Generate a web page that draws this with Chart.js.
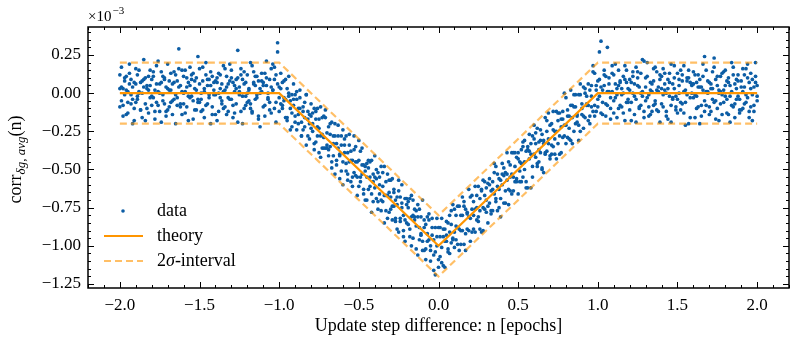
<!DOCTYPE html>
<html>
<head>
<meta charset="utf-8">
<script src="https://cdn.jsdelivr.net/npm/chart.js@4"></script>
<style>
  html, body { margin: 0; padding: 0; background: #fff; }
  #wrap { width: 797px; height: 346px; }
</style>
</head>
<body>
<div id="wrap"><canvas id="chart" width="797" height="346"></canvas></div>
<script>
// x positions of the measured points, in 1/100 epoch
const dataX = [
  -200,-199,-198,-197,-196,-195,-194,-193,-192,-191,-190,-189,-188,-187,-186,-185,-184,-183,-182,-181,
  -180,-179,-178,-177,-176,-175,-174,-173,-172,-171,-170,-169,-168,-167,-166,-165,-164,-163,-162,-161,
  -160,-159,-158,-157,-156,-155,-154,-153,-152,-151,-150,-149,-148,-147,-146,-145,-144,-143,-142,-141,
  -140,-139,-138,-137,-136,-135,-134,-133,-132,-131,-130,-129,-128,-127,-126,-125,-124,-123,-122,-121,
  -120,-119,-118,-117,-116,-115,-114,-113,-112,-111,-110,-109,-108,-107,-106,-105,-104,-103,-102,-101,
  -100,-99,-98,-97,-96,-95,-94,-93,-92,-91,-90,-89,-88,-87,-86,-85,-84,-83,-82,-81,
  -80,-79,-78,-77,-76,-75,-74,-73,-72,-71,-70,-69,-68,-67,-66,-65,-64,-63,-62,-61,
  -60,-59,-58,-57,-56,-55,-54,-53,-52,-51,-50,-49,-48,-47,-46,-45,-44,-43,-42,-41,
  -40,-39,-38,-37,-36,-35,-34,-33,-32,-31,-30,-29,-28,-27,-26,-25,-24,-23,-22,-21,
  -20,-19,-18,-17,-16,-15,-14,-13,-12,-11,-10,-9,-8,-7,-6,-5,-4,-3,-2,-1,
  0,1,2,3,4,5,6,7,8,9,10,11,12,13,14,15,16,17,18,19,
  20,21,22,23,24,25,26,27,28,29,30,31,32,33,34,35,36,37,38,39,
  40,41,42,43,44,45,46,47,48,49,50,51,52,53,54,55,56,57,58,59,
  60,61,62,63,64,65,66,67,68,69,70,71,72,73,74,75,76,77,78,79,
  80,81,82,83,84,85,86,87,88,89,90,91,92,93,94,95,96,97,98,99,
  100,101,102,103,104,105,106,107,108,109,110,111,112,113,114,115,116,117,118,119,
  120,121,122,123,124,125,126,127,128,129,130,131,132,133,134,135,136,137,138,139,
  140,141,142,143,144,145,146,147,148,149,150,151,152,153,154,155,156,157,158,159,
  160,161,162,163,164,165,166,167,168,169,170,171,172,173,174,175,176,177,178,179,
  180,181,182,183,184,185,186,187,188,189,190,191,192,193,194,195,196,197,198,199,
  200
];

// three runs of measured correlation, in units of 1e-5
const runA = [
  12,-5,3,8,-14,1,19,-7,4,-10, 6,-2,15,-11,0,9,-18,5,11,-3,
  -8,14,2,-6,21,-12,7,-1,10,-15, 3,-9,13,6,-4,-20,8,16,-7,1,
  11,-13,4,-2,17,9,-5,-11,2,24, -6,0,8,-16,12,5,-3,14,-9,7,
  -1,10,-12,3,-7,18,2,-14,6,-4, 15,-8,1,9,-19,4,12,-2,-10,7,
  0,-5,20,-13,6,11,-1,-17,3,8, -9,13,5,-4,-11,16,2,9,-6,27,
  -3,
  3,-10,8,-4,-18,0,-5,-13,6,-19, -4,-14,-3,-28,-12,-22,-1,-17,-30,-15,
  -25,-10,-32,-22,-17,-42,-27,-15,-36,-26, -22,-35,-45,-28,-20,-44,-36,-56,-28,-45,
  -39,-28,-53,-45,-38,-61,-37,-45,-55,-31, -58,-47,-66,-48,-55,-44,-61,-78,-53,-62,
  -50,-71,-60,-48,-71,-67,-58,-82,-65,-57, -74,-65,-84,-73,-57,-84,-72,-94,-69,-85,
  -75,-94,-81,-70,-81,-77,-106,-88,-81,-97, -88,-102,-81,-96,-110,-88,-96,-104,-82,-109,
  -94,-111,-89,-97,-84,-102,-91,-77,-95,-101, -80,-88,-103,-80,-90,-71,-92,-79,-63,-82,
  -91,-71,-76,-83,-61,-77,-63,-90,-67,-62, -74,-56,-77,-63,-66,-48,-77,-56,-69,-60,
  -49,-64,-53,-73,-47,-53,-64,-39,-56,-43, -58,-46,-32,-50,-58,-35,-38,-62,-28,-40,
  -33,-46,-37,-24,-50,-31,-16,-38,-33,-21, -40,-24,-30,-12,-18,-40,-22,-12,-28,-33,
  -11,-23,2,-16,-25,-9,-15,-1,-25,-7, -15,3,-8,-18,2,-2,-12,13,2,
  -4,9,-13,2,15,-7,30,6,-10,1, 12,-3,-16,5,8,-9,0,18,-6,3,
  -11,7,14,-2,-19,10,4,-8,1,21, -5,11,-1,-14,6,16,-7,2,-12,9,
  3,-9,13,0,-17,7,19,-4,10,-2, -13,5,-6,12,1,-21,8,15,-3,6,
  14,-1,-10,4,9,-15,2,24,-8,0, 7,-12,3,17,-5,11,-18,1,13,-6,
  -2,8,-14,5,20,-9,6,-4,12,-11, 4,16,-7,-1,10,-16,3,9,-12,7,
  -5
];

const runB = [
  -9,4,-15,10,2,-6,13,-1,-20,7, 16,-4,1,-11,8,22,-7,3,-13,5,
  -2,11,-17,6,-8,0,14,-5,9,-12, 19,2,-6,-14,7,12,-3,4,-9,15,
  -7,1,10,-18,5,-2,13,8,-11,-4, 6,-12,17,3,-8,9,-1,-20,11,2,
  -14,7,0,12,-5,-10,16,4,-3,8, 10,-16,5,-7,28,1,-12,9,14,-2,
  -6,3,-10,18,7,-4,11,-15,0,13, 5,-8,21,-3,9,-13,2,17,-19,33,
  4,
  -7,7,-5,9,-16,-2,-24,-1,-8,-15, 1,-20,-10,-28,-9,-16,-1,-28,-14,-23,
  -13,-37,-12,-28,-23,-9,-36,-29,-16,-36, -41,-27,-19,-41,-53,-33,-28,-40,-51,-24,
  -34,-46,-57,-34,-44,-55,-28,-54,-45,-61, -38,-53,-47,-70,-46,-63,-55,-44,-71,-55,
  -69,-52,-66,-77,-61,-48,-77,-67,-57,-76, -56,-74,-82,-68,-91,-68,-75,-90,-83,-69,
  -86,-69,-100,-80,-76,-87,-73,-96,-92,-70, -103,-86,-97,-79,-103,-93,-116,-88,-100,-114,
  -88,-101,-113,-89,-93,-104,-80,-98,-73,-91, -96,-74,-89,-99,-80,-74,-103,-78,-90,-68,
  -76,-89,-61,-75,-81,-89,-64,-75,-58,-78, -59,-72,-79,-58,-46,-71,-61,-75,-57,-46,
  -72,-52,-57,-45,-64,-39,-55,-58,-42,-66, -45,-58,-35,-45,-38,-62,-27,-40,-48,-30,
  -42,-23,-45,-31,-49,-33,-39,-25,-13,-41, -20,-35,-25,-43,-13,-28,-17,-29,-21,-3,
  -29,-15,-31,-8,-1,-20,-14,-31,-1,-14, 4,-16,-2,-8,-20,5,18,-8,-12,
  8,-2,34,-14,5,11,-8,1,-17,13, -5,19,3,-10,7,-1,-13,9,15,-6,
  2,-18,11,6,-4,14,-9,0,22,-12, 10,-3,-15,7,1,-8,17,-11,4,12,
  -7,16,2,-12,9,-2,-19,6,3,-9, 13,0,-11,8,18,-6,-1,10,-16,5,
  -3,12,7,-9,-20,4,11,-5,15,1, -14,6,-4,23,9,-10,2,-7,-1,14,
  5,-13,10,-2,-8,17,-16,3,8,-4, -11,1,12,-6,19,7,-9,-18,4,11,
  -2
];

const runC = [
  3,17,-8,-1,11,-13,6,9,-4,-18, -6,12,0,7,-16,4,10,-10,2,15,
  9,-3,-12,18,1,6,-19,11,-7,4, -11,8,2,-5,14,-1,-8,29,5,-14,
  0,15,-9,7,-3,12,-17,3,10,-6, 16,-4,-11,1,20,-7,9,5,-14,-1,
  8,-18,13,-3,6,1,-9,11,-12,19, -4,7,-13,3,10,-1,16,-20,6,-8,
  12,2,-7,-12,14,5,-3,8,-22,1, 7,-15,10,0,-6,4,19,-10,12,6,
  -12,
  13,-8,-3,-16,3,11,-10,-22,-4,-1, -24,-10,2,-19,-24,-6,-34,-12,-20,-7,
  -20,-33,-17,-10,-39,-28,-16,-36,-11,-34, -37,-20,-49,-33,-28,-47,-21,-41,-34,-60,
  -30,-51,-39,-27,-58,-44,-52,-35,-67,-44, -55,-36,-63,-51,-70,-49,-45,-66,-58,-41,
  -56,-76,-55,-70,-52,-85,-67,-53,-78,-68, -83,-63,-70,-89,-64,-82,-60,-80,-97,-73,
  -71,-89,-67,-95,-83,-102,-81,-76,-93,-103, -83,-109,-92,-83,-100,-82,-106,-119,-94,-88,
  -107,-82,-94,-114,-97,-85,-105,-86,-96,-76, -87,-99,-74,-90,-68,-99,-76,-89,-81,-97,
  -67,-80,-91,-67,-84,-69,-91,-57,-76,-70, -85,-60,-64,-77,-52,-69,-53,-63,-81,-53,
  -54,-72,-39,-63,-55,-66,-39,-48,-58,-39, -51,-37,-55,-31,-62,-37,-43,-33,-55,-21,
  -26,-48,-32,-39,-27,-52,-40,-18,-30,-43, -34,-12,-40,-25,-33,-13,-39,-17,0,-21,
  -15,-30,-8,-33,-9,-1,-19,-21,6,-10, -23,0,-7,6,-15,-9,14,-15,5,
  -9,27,4,-6,12,-15,1,10,-3,18, -13,6,-1,15,-8,3,11,-18,7,-4,
  9,-6,0,-14,17,5,-10,13,-2,-16, 4,20,-9,2,-12,8,-5,14,1,-19,
  11,-1,6,-15,3,13,-8,-3,18,-11, -4,9,15,-7,-13,2,10,-20,7,0,
  6,-16,-2,12,4,-8,19,-12,1,8, -9,3,14,-6,-17,5,0,11,-14,2,
  15,-4,7,-19,1,12,-7,9,-2,-13, 8,-10,4,16,-3,-12,13,-1,-8,20,
  5
];

// theory curve and its 2 sigma band (units of 1e-3)
const theoryX = [-2, -1, 0, 1, 2];
const theoryY = [0, 0, -1, 0, 0];
const upperY = [0.2, 0.2, -0.8, 0.2, 0.2];
const lowerY = [-0.2, -0.2, -1.2, -0.2, -0.2];

const xTicks = [-2.0, -1.5, -1.0, -0.5, 0.0, 0.5, 1.0, 1.5, 2.0];
const yTicks = [-1.25, -1.0, -0.75, -0.5, -0.25, 0.0, 0.25];

const BLUE = "#0C5DA5";
const ORANGE = "#FF9500";
const ORANGE_LIGHT = "rgba(255,149,0,0.6)";
const SERIF = "'Liberation Serif', 'DejaVu Serif', serif";

function buildPoints() {
  const points = [];
  [runA, runB, runC].forEach((run) => {
    run.forEach((v, i) => points.push({ x: dataX[i] / 100, y: v / 100 }));
  });
  return points;
}

function linePoints(ys) {
  return theoryX.map((x, i) => ({ x: x, y: ys[i] }));
}

function fmt(v, digits) {
  return v.toFixed(digits).replace("-", "\u2212");
}

// inward ticks on all four sides + frame, like the matplotlib style
const framePlugin = {
  id: "frame",
  afterDatasetsDraw(chart) {
    const { ctx, chartArea: a, scales: { x, y } } = chart;
    ctx.save();
    ctx.strokeStyle = "#000";
    ctx.lineWidth = 1;
    ctx.beginPath();
    for (let k = -22; k <= 22; k++) {
      const len = k % 5 === 0 ? 6 : 3;
      const px = Math.round(x.getPixelForValue(k / 10)) + 0.5;
      ctx.moveTo(px, a.bottom); ctx.lineTo(px, a.bottom - len);
      ctx.moveTo(px, a.top); ctx.lineTo(px, a.top + len);
    }
    for (let k = -25; k <= 8; k++) {
      const len = k % 5 === 0 ? 6 : 3;
      const py = Math.round(y.getPixelForValue(k * 0.05)) + 0.5;
      ctx.moveTo(a.left, py); ctx.lineTo(a.left + len, py);
      ctx.moveTo(a.right, py); ctx.lineTo(a.right - len, py);
    }
    ctx.stroke();
    ctx.lineWidth = 1.5;
    ctx.strokeRect(a.left, a.top, a.right - a.left, a.bottom - a.top);
    ctx.restore();
  },
  afterDraw(chart) {
    const { ctx, chartArea: a } = chart;
    ctx.save();
    ctx.fillStyle = "#000";
    ctx.textBaseline = "alphabetic";

    // x axis title
    ctx.font = "18px " + SERIF;
    ctx.textAlign = "center";
    ctx.fillText("Update step difference: n [epochs]", (a.left + a.right) / 2, 331);

    // offset text
    ctx.textAlign = "left";
    ctx.font = "15px " + SERIF;
    ctx.fillText("\u00d710", 88, 21);
    const w10 = ctx.measureText("\u00d710").width;
    ctx.font = "11px " + SERIF;
    ctx.fillText("\u22123", 88 + w10 + 1, 14);

    // y axis title with subscript
    ctx.translate(21, (a.top + a.bottom) / 2 + 2);
    ctx.rotate(-Math.PI / 2);
    const mainFont = "18px " + SERIF;
    const subFont = "italic 13px " + SERIF;
    ctx.font = mainFont; const w1 = ctx.measureText("corr").width;
    ctx.font = subFont; const w2 = ctx.measureText("\u03b4g, avg").width;
    ctx.font = mainFont; const w3 = ctx.measureText("(n)").width;
    let cx = -(w1 + w2 + w3) / 2;
    ctx.font = mainFont; ctx.fillText("corr", cx, 0); cx += w1;
    ctx.font = subFont; ctx.fillText("\u03b4g, avg", cx, 4); cx += w2;
    ctx.font = mainFont; ctx.fillText("(n)", cx, 0);
    ctx.restore();

    // legend
    ctx.save();
    ctx.fillStyle = BLUE;
    ctx.beginPath();
    ctx.arc(123, 211, 1.8, 0, Math.PI * 2);
    ctx.fill();
    ctx.lineWidth = 2;
    ctx.strokeStyle = ORANGE;
    ctx.beginPath(); ctx.moveTo(104, 236); ctx.lineTo(143, 236); ctx.stroke();
    ctx.strokeStyle = ORANGE_LIGHT;
    ctx.setLineDash([7, 4]);
    ctx.beginPath(); ctx.moveTo(104, 261); ctx.lineTo(143, 261); ctx.stroke();
    ctx.setLineDash([]);
    ctx.fillStyle = "#000";
    ctx.textBaseline = "middle";
    ctx.textAlign = "left";
    ctx.font = "18px " + SERIF;
    ctx.fillText("data", 157, 211);
    ctx.fillText("theory", 157, 236);
    ctx.fillText("2", 157, 261);
    let lx = 157 + ctx.measureText("2").width;
    ctx.font = "italic 18px " + SERIF;
    ctx.fillText("\u03c3", lx, 261);
    lx += ctx.measureText("\u03c3").width;
    ctx.font = "18px " + SERIF;
    ctx.fillText("-interval", lx, 261);
    ctx.restore();
  },
};

new Chart(document.getElementById("chart"), {
  type: "scatter",
  data: {
    datasets: [
      {
        label: "data",
        data: buildPoints(),
        backgroundColor: BLUE,
        borderWidth: 0,
        pointRadius: 1.85,
        order: 3,
      },
      {
        label: "theory",
        data: linePoints(theoryY),
        showLine: true,
        borderColor: ORANGE,
        borderWidth: 2.2,
        pointRadius: 0,
        order: 1,
      },
      {
        label: "2σ-interval",
        data: linePoints(upperY),
        showLine: true,
        borderColor: ORANGE_LIGHT,
        borderWidth: 2.2,
        borderDash: [7, 4],
        pointRadius: 0,
        order: 2,
      },
      {
        label: "2σ-interval lower",
        data: linePoints(lowerY),
        showLine: true,
        borderColor: ORANGE_LIGHT,
        borderWidth: 2.2,
        borderDash: [7, 4],
        pointRadius: 0,
        order: 2,
      },
    ],
  },
  options: {
    responsive: false,
    animation: false,
    layout: { padding: { left: 0, top: 27, right: 8, bottom: 0 } },
    plugins: {
      legend: { display: false },
      tooltip: { enabled: false },
    },
    scales: {
      x: {
        type: "linear",
        min: -2.2,
        max: 2.2,
        grid: { display: false, drawTicks: false },
        border: { display: false },
        afterBuildTicks: (scale) => { scale.ticks = xTicks.map((v) => ({ value: v })); },
        afterFit: (scale) => { scale.height = 58; },
        ticks: {
          autoSkip: false,
          maxRotation: 0,
          padding: 7,
          color: "#000",
          font: { family: SERIF, size: 17 },
          callback: (v) => fmt(v, 1),
        },
      },
      y: {
        type: "linear",
        min: -1.276,
        max: 0.433,
        grid: { display: false, drawTicks: false },
        border: { display: false },
        afterBuildTicks: (scale) => { scale.ticks = yTicks.map((v) => ({ value: v })); },
        afterFit: (scale) => { scale.width = 88; },
        ticks: {
          autoSkip: false,
          padding: 7,
          color: "#000",
          font: { family: SERIF, size: 17 },
          callback: (v) => fmt(v, 2),
        },
      },
    },
  },
  plugins: [framePlugin],
});
</script>
</body>
</html>
